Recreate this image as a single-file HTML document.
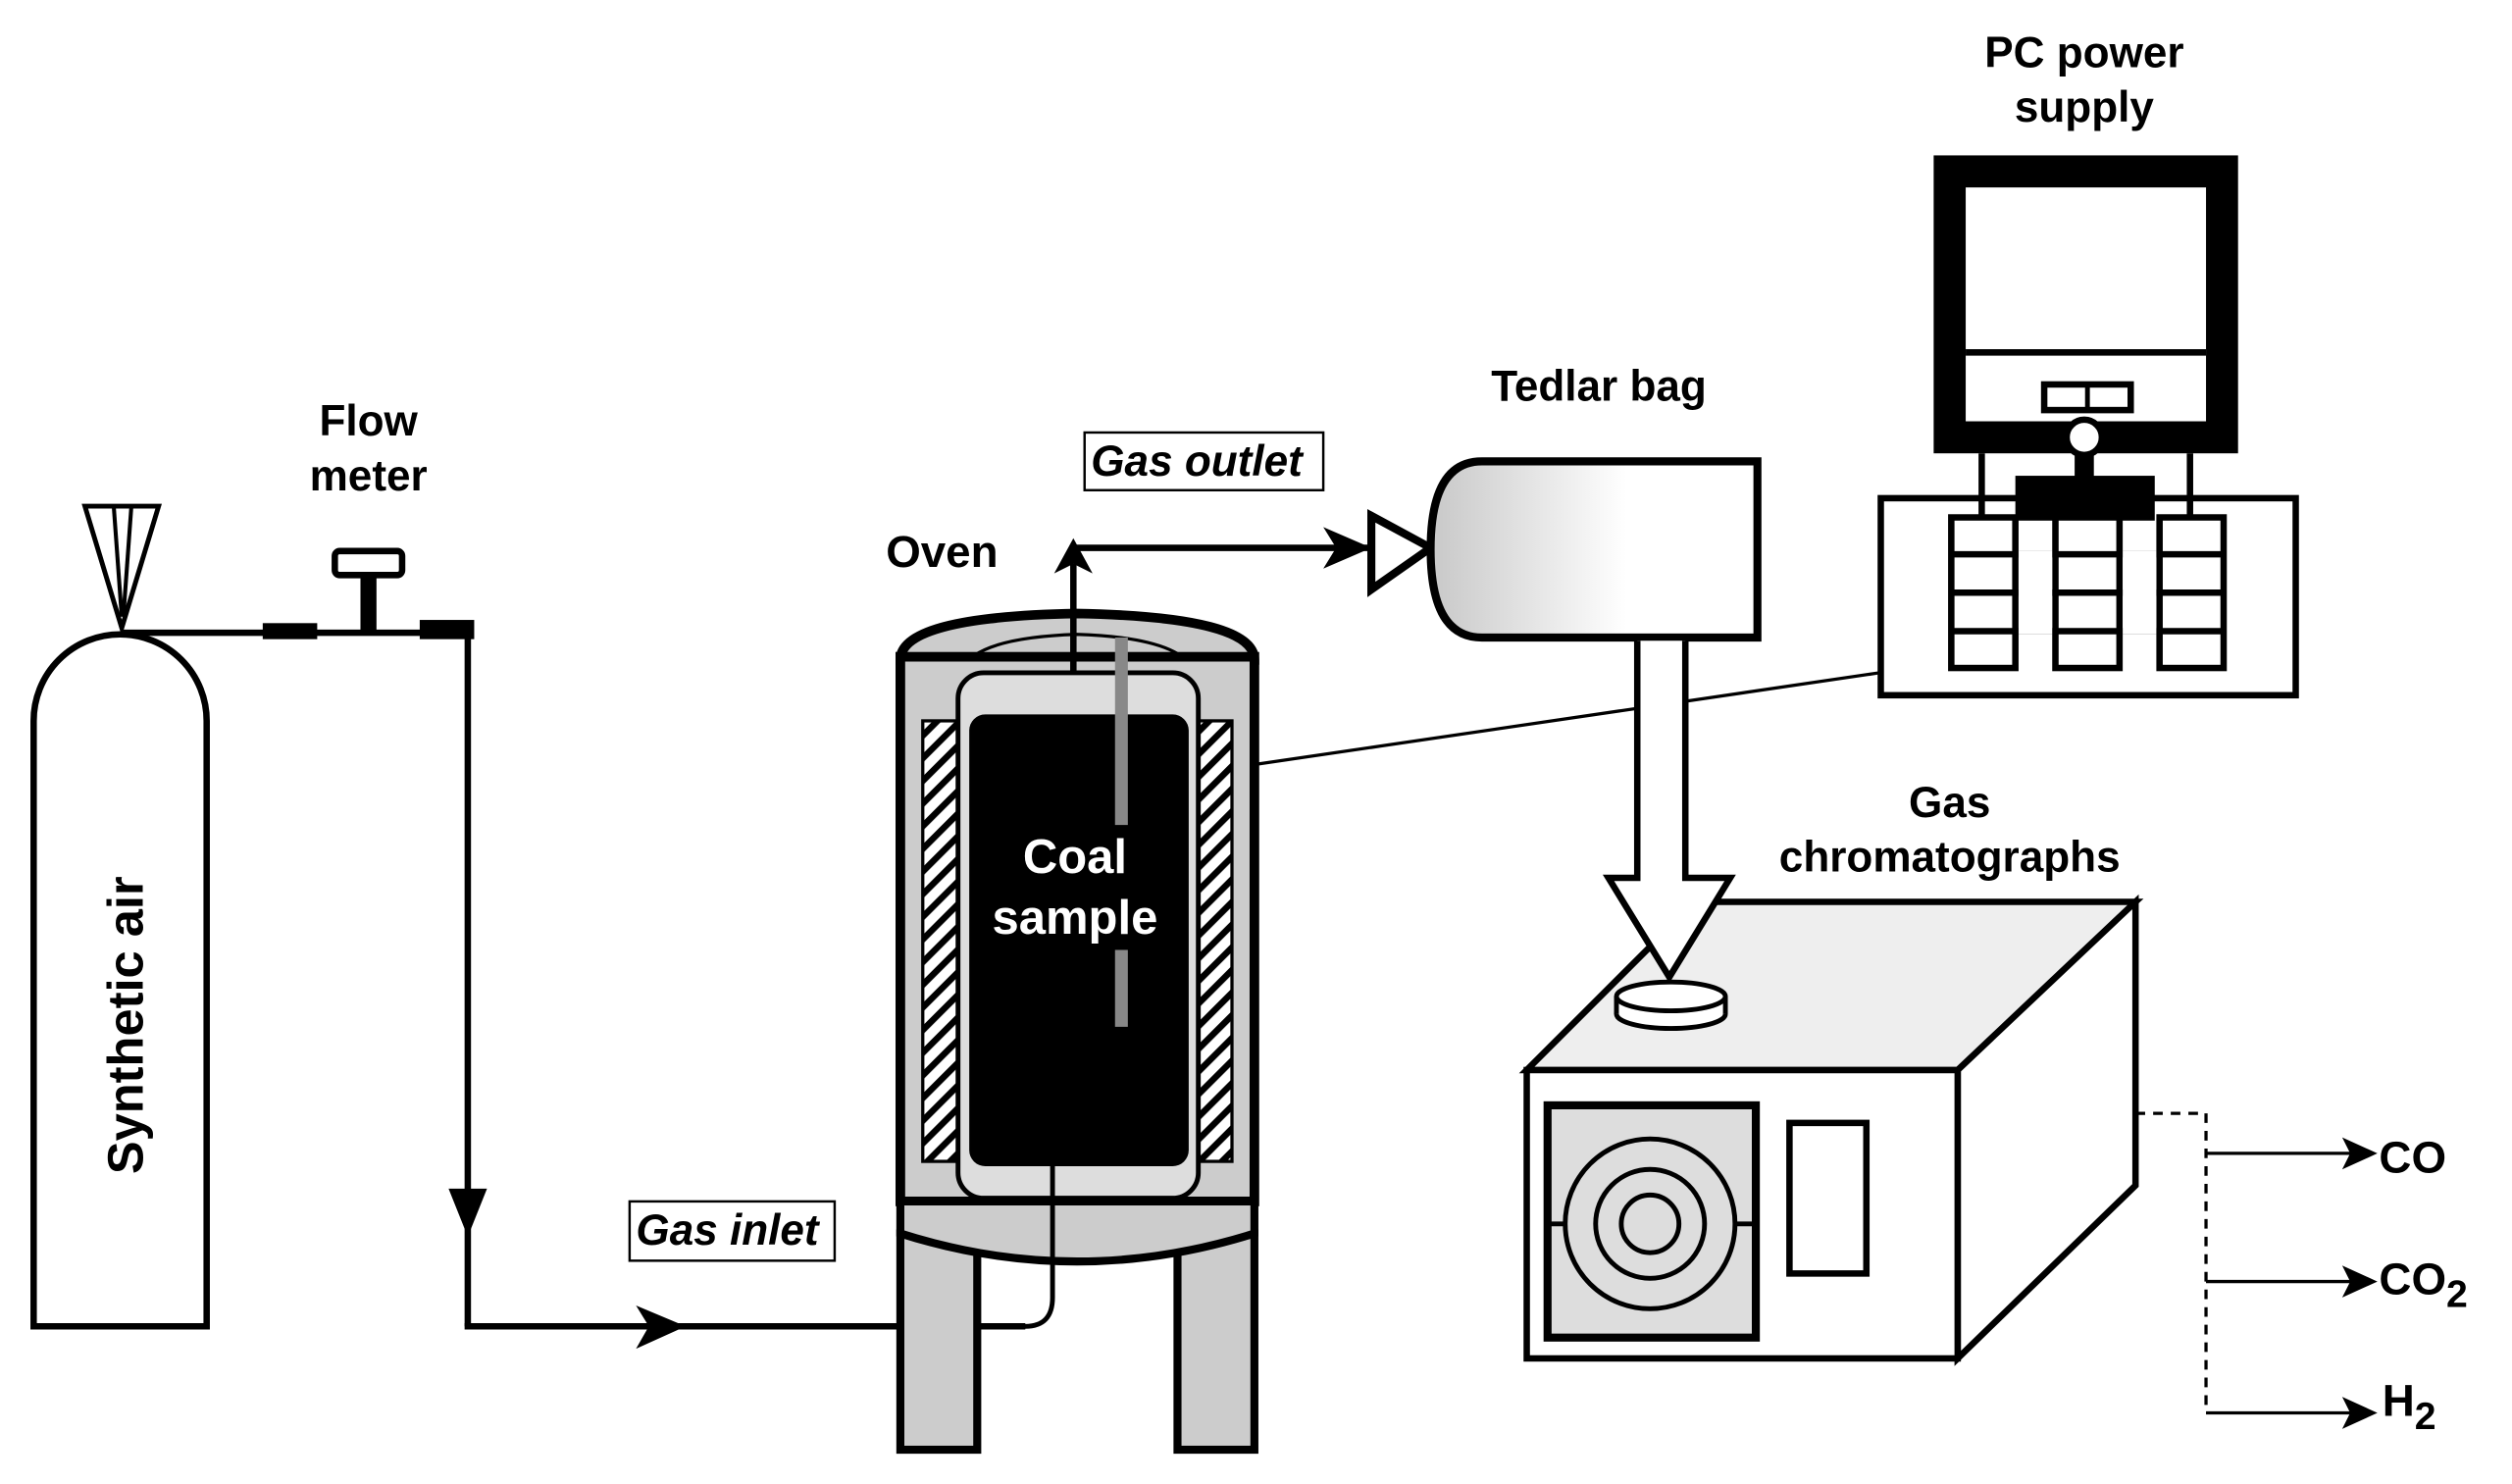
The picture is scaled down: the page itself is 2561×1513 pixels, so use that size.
<!DOCTYPE html>
<html><head><style>html,body{margin:0;padding:0;background:#fff;}svg{display:block}</style></head>
<body>
<svg width="2561" height="1513" viewBox="0 0 1568 926.4" preserveAspectRatio="none" xmlns="http://www.w3.org/2000/svg" font-family="Liberation Sans, sans-serif">
<defs>
<linearGradient id="bag" x1="0" x2="1"><stop offset="0" stop-color="#c8c8c8"/><stop offset="0.6" stop-color="#fff"/></linearGradient>
<pattern id="hatch" width="10" height="10" patternUnits="userSpaceOnUse" patternTransform="rotate(-45)"><rect width="10" height="10" fill="#fff"/><rect width="10" height="4" fill="#000"/></pattern>
</defs>
<g stroke="#000" fill="none" stroke-width="4">
<path d="M21,828 V450 A54,54 0 0 1 129,450 V828 Z" fill="#fff"/>
<polygon points="53,316 99,316 76,392" fill="#fff" stroke-width="3"/>
<line x1="71" y1="316" x2="76" y2="385" stroke-width="2.5"/><line x1="82" y1="316" x2="77" y2="385" stroke-width="2.5"/>
<line x1="76" y1="395" x2="292" y2="395"/>
<line x1="292" y1="393" x2="292" y2="828"/>
<line x1="290" y1="828" x2="640" y2="828"/>
</g>
<rect x="164" y="389" width="34" height="10" fill="#000"/>
<rect x="262" y="387" width="34" height="12" fill="#000"/>
<rect x="225" y="358" width="10" height="38" fill="#000"/>
<rect x="209" y="344" width="42" height="15" rx="3" fill="#fff" stroke="#000" stroke-width="4"/>
<polygon points="280,742 304,742 292,772" fill="#000"/>
<polygon points="397,815 428,828 397,842 405,828" fill="#000"/>
<rect x="393" y="750" width="128" height="37" fill="#fff" stroke="#000" stroke-width="1.5"/>
<text x="397" y="777" font-size="27" font-style="italic" font-weight="bold">Gas inlet</text>
<text x="0" y="0" font-size="31" font-weight="bold" transform="translate(89,640) rotate(-90)" text-anchor="middle">Synthetic air</text>
<text x="230" y="272" font-size="27" font-weight="bold" text-anchor="middle">Flow</text>
<text x="230" y="306" font-size="27" font-weight="bold" text-anchor="middle">meter</text>
<!-- oven -->
<path d="M562,412 Q562,385 672,383 Q783,385 783,412 Z" fill="#ccc" stroke="#000" stroke-width="6"/>
<path d="M600,418 Q610,398 672,396 Q735,398 745,418" fill="none" stroke="#000" stroke-width="2"/>
<rect x="562" y="410" width="221" height="340" fill="#ccc" stroke="#000" stroke-width="6"/>
<rect x="576" y="450" width="24" height="275" fill="url(#hatch)" stroke="#000" stroke-width="2"/>
<rect x="745" y="450" width="24" height="275" fill="url(#hatch)" stroke="#000" stroke-width="2"/>
<rect x="598" y="420" width="150" height="328" rx="16" fill="#ddd" stroke="#000" stroke-width="3"/>
<rect x="605" y="446" width="137" height="282" rx="10" fill="#000"/>
<rect x="562" y="770" width="48" height="135" fill="#ccc" stroke="#000" stroke-width="5"/>
<rect x="735" y="770" width="48" height="135" fill="#ccc" stroke="#000" stroke-width="5"/>
<path d="M562,750 H783 V770 Q672,805 562,770 Z" fill="#ccc" stroke="#000" stroke-width="5"/>
<rect x="696" y="398" width="8" height="117" fill="#888"/>
<rect x="696" y="593" width="8" height="48" fill="#888"/>
<path d="M610,828 H640 Q657,828 657,810 V728" stroke="#000" stroke-width="3" fill="none"/>
<text x="671" y="545" font-size="30" font-weight="bold" fill="#fff" text-anchor="middle">Coal</text>
<text x="671" y="583" font-size="30" font-weight="bold" fill="#fff" text-anchor="middle">sample</text>
<text x="553" y="354" font-size="28" font-weight="bold">Oven</text>
<g stroke="#000" stroke-width="4" fill="none">
<line x1="670" y1="420" x2="670" y2="352"/>
<polyline points="670,342 855,342"/>
<polygon points="856,322 893,342 856,368" fill="#fff" stroke-width="5"/>
</g>
<polygon points="658,358 670,336 682,358 670,352" fill="#000"/>
<polygon points="826,329 856,342 826,355 834,342" fill="#000"/>
<rect x="677" y="270" width="149" height="36" fill="#fff" stroke="#000" stroke-width="1.5"/>
<text x="681" y="297" font-size="27" font-style="italic" font-weight="bold">Gas outlet</text>
<path d="M925,288 H1097 V398 H925 Q893,398 893,343 Q893,288 925,288 Z" fill="url(#bag)" stroke="#000" stroke-width="5"/>
<text x="998" y="250" font-size="27" font-weight="bold" text-anchor="middle">Tedlar bag</text>
<line x1="785" y1="477" x2="1173" y2="420" stroke="#000" stroke-width="2"/>
<!-- GC -->
<polygon points="953,668 1058,563 1333,563 1222,668" fill="#eee" stroke="#000" stroke-width="4"/>
<polygon points="1222,668 1333,563 1333,740 1222,848" fill="#fff" stroke="#000" stroke-width="4"/>
<rect x="953" y="668" width="269" height="180" fill="#fff" stroke="#000" stroke-width="4"/>
<rect x="966" y="690" width="130" height="145" fill="#ddd" stroke="#000" stroke-width="5"/>
<line x1="966" y1="764" x2="1096" y2="764" stroke="#000" stroke-width="3"/>
<circle cx="1030" cy="764" r="53" fill="#ddd" stroke="#000" stroke-width="3"/>
<circle cx="1030" cy="764" r="34" fill="#ddd" stroke="#000" stroke-width="3"/>
<circle cx="1030" cy="764" r="18" fill="#ddd" stroke="#000" stroke-width="3"/>
<rect x="1117" y="701" width="48" height="94" fill="#fff" stroke="#000" stroke-width="4"/>
<path d="M1022,400 V548 H1004 L1042,610 L1080,548 H1052 V400" fill="#fff" stroke="#000" stroke-width="4"/>
<ellipse cx="1043" cy="633" rx="34" ry="9" fill="#fff" stroke="#000" stroke-width="3"/>
<rect x="1009" y="622" width="68" height="11" fill="#fff"/>
<path d="M1009,622 V633 M1077,622 V633" stroke="#000" stroke-width="3"/>
<ellipse cx="1043" cy="622" rx="34" ry="9" fill="#fff" stroke="#000" stroke-width="3"/>
<text x="1217" y="510" font-size="27" font-weight="bold" text-anchor="middle">Gas</text>
<text x="1217" y="544" font-size="27" font-weight="bold" text-anchor="middle">chromatographs</text>
<path d="M1333,695 H1377 V882" stroke="#000" stroke-width="2" stroke-dasharray="6,5" fill="none"/>
<g stroke="#000" stroke-width="2"><line x1="1377" y1="720" x2="1475" y2="720"/><line x1="1377" y1="800" x2="1475" y2="800"/><line x1="1377" y1="882" x2="1475" y2="882"/></g>
<polygon points="1462,710 1484,720 1462,730 1467,720" fill="#000"/>
<polygon points="1462,790 1484,800 1462,810 1467,800" fill="#000"/>
<polygon points="1462,872 1484,882 1462,892 1467,882" fill="#000"/>
<text x="1485" y="732" font-size="28" font-weight="bold">CO</text>
<text x="1485" y="808" font-size="28" font-weight="bold">CO<tspan font-size="24" dy="8">2</tspan></text>
<text x="1487" y="884" font-size="28" font-weight="bold">H<tspan font-size="24" dy="8">2</tspan></text>
<!-- PC -->
<text x="1301" y="42" font-size="27" font-weight="bold" text-anchor="middle">PC power</text>
<text x="1301" y="76" font-size="27" font-weight="bold" text-anchor="middle">supply</text>
<rect x="1217" y="107" width="170" height="166" fill="#fff" stroke="#000" stroke-width="20"/>
<line x1="1227" y1="220" x2="1377" y2="220" stroke="#000" stroke-width="4"/>
<rect x="1276" y="240" width="54" height="16" fill="#fff" stroke="#000" stroke-width="4"/>
<line x1="1303" y1="240" x2="1303" y2="256" stroke="#000" stroke-width="3"/>
<rect x="1174" y="311" width="259" height="123" fill="#fff" stroke="#000" stroke-width="4"/>
<g stroke="#000" stroke-width="4"><line x1="1237" y1="283" x2="1237" y2="322"/><line x1="1367" y1="283" x2="1367" y2="322"/></g>
<rect x="1258" y="297" width="87" height="28" fill="#000"/>
<rect x="1295" y="280" width="12" height="20" fill="#000"/>
<circle cx="1301" cy="273" r="11" fill="#fff" stroke="#000" stroke-width="4"/>
<g fill="#fff" stroke="#000" stroke-width="4">
<rect x="1218" y="323" width="40" height="94"/><rect x="1283" y="323" width="40" height="94"/><rect x="1348" y="323" width="40" height="94"/>
</g>
<g stroke="#000" stroke-width="4">
<line x1="1218" y1="346" x2="1388" y2="346"/><line x1="1218" y1="370" x2="1388" y2="370"/><line x1="1218" y1="394" x2="1388" y2="394"/>
</g>
<g fill="#fff"><rect x="1260" y="344" width="21" height="52"/><rect x="1325" y="344" width="21" height="52"/></g>
</svg>
</body></html>
